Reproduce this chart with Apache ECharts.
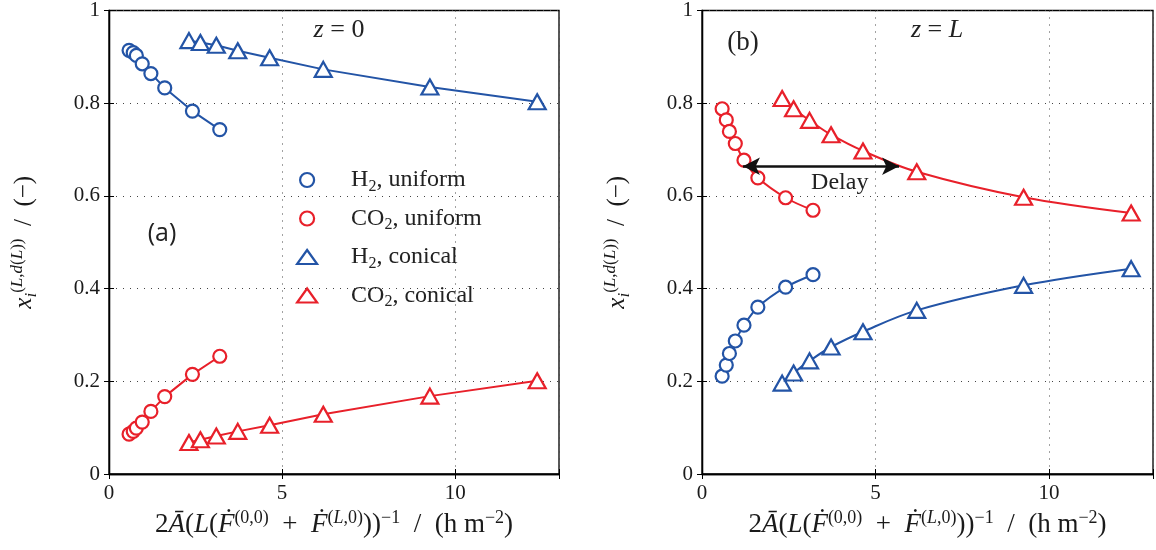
<!DOCTYPE html>
<html>
<head>
<meta charset="utf-8">
<script src="https://cdn.jsdelivr.net/npm/echarts@6/dist/echarts.min.js"></script>
<style>
html,body{margin:0;padding:0;background:#fff;}
#chart{width:1156px;height:550px;}
</style>
</head>
<body>
<div id="chart"></div>
<script>
// ---- data ----
const xUniform = [0.58, 0.70, 0.79, 0.96, 1.21, 1.61, 2.41, 3.20];
const xConical = [2.31, 2.64, 3.10, 3.72, 4.64, 6.19, 9.27, 12.37];

// panel (a): z = 0
const h2UniformA  = [0.914, 0.909, 0.903, 0.885, 0.864, 0.833, 0.783, 0.743];
const co2UniformA = [0.086, 0.092, 0.099, 0.112, 0.135, 0.167, 0.215, 0.254];
const h2ConicalA  = [0.935, 0.931, 0.925, 0.913, 0.898, 0.873, 0.835, 0.803];
const co2ConicalA = [0.068, 0.074, 0.082, 0.092, 0.105, 0.129, 0.168, 0.201];

// panel (b): z = L
const h2UniformB  = [0.211, 0.235, 0.260, 0.287, 0.321, 0.360, 0.403, 0.430];
const co2UniformB = [0.788, 0.764, 0.739, 0.713, 0.677, 0.639, 0.596, 0.569];
const h2ConicalB  = [0.196, 0.218, 0.244, 0.274, 0.307, 0.353, 0.407, 0.443];
const co2ConicalB = [0.810, 0.788, 0.763, 0.732, 0.697, 0.652, 0.597, 0.563];

// delay arrow (panel b)
const delayFrom = [1.18, 0.664];
const delayTo   = [5.68, 0.664];
const delayLabelPos = [3.97, 0.629];

const xTicks = [0, 5, 10];
const yTicks = [0, 0.2, 0.4, 0.6, 0.8, 1];
const seriesNames = ['H2u', 'CO2u', 'H2c', 'CO2c'];

// ---- styling ----
const BLUE = '#2354a6';
const RED = '#e8202a';
const SERIF = 'Liberation Serif';
const INK = '#1a1a1a';
const pair = (xs, ys) => xs.map((x, i) => [x, ys[i]]);

const legendText = {
  H2u: '{t|H}{s|2}{t|, uniform}',
  CO2u: '{t|CO}{s|2}{t|, uniform}',
  H2c: '{t|H}{s|2}{t|, conical}',
  CO2c: '{t|CO}{s|2}{t|, conical}'
};

function mathRich(fs, lh) {
  const sfs = Math.round(fs * 0.68);
  return {
    t: { fontFamily: SERIF, fontSize: fs, color: INK, lineHeight: lh, verticalAlign: 'middle' },
    i: { fontFamily: SERIF, fontSize: fs, fontStyle: 'italic', color: INK, lineHeight: lh, verticalAlign: 'middle' },
    sup: { fontFamily: SERIF, fontSize: sfs, color: INK, lineHeight: sfs + 2, verticalAlign: 'top' },
    supi: { fontFamily: SERIF, fontSize: sfs, fontStyle: 'italic', color: INK, lineHeight: sfs + 2, verticalAlign: 'top' },
    sub: { fontFamily: SERIF, fontSize: sfs, fontStyle: 'italic', color: INK, lineHeight: sfs + 2, verticalAlign: 'bottom' }
  };
}

function mkSeries(name, xs, ys, color, symbol, gi, smooth) {
  return {
    name: name, type: 'line', xAxisIndex: gi * 2, yAxisIndex: gi * 2,
    data: pair(xs, ys), smooth: smooth ? 0.35 : false,
    symbol: symbol, symbolSize: symbol === 'triangle' ? [17, 15] : 13,
    showAllSymbol: true,
    lineStyle: { color: color, width: 2 },
    itemStyle: { color: '#fff', borderColor: color, borderWidth: 2.2 },
    emphasis: { disabled: true }, animation: false, z: 3
  };
}

function axesFor() {
  const xMain = {
    type: 'value', min: 0, max: 13, interval: 5,
    axisLine: { show: true, lineStyle: { color: '#000', width: 1.3 } },
    axisTick: { show: true, inside: true, length: 5, lineStyle: { color: '#000' } },
    axisLabel: { show: true, color: INK, fontFamily: SERIF, fontSize: 21, margin: 9,
      formatter: v => (xTicks.indexOf(v) >= 0 ? String(v) : '') },
    splitLine: { show: true, lineStyle: { color: '#444', type: [1, 6], width: 1 } },
    name: '{t|2}{i|Ā}{t|(}{i|L}{t|(}{i|Ḟ}{sup|(0,0)}{t|  +  }{i|Ḟ}{sup|(}{supi|L}{sup|,0)}{t|))}{sup|−1}{t|  /  (h m}{sup|−2}{t|)}',
    nameLocation: 'middle', nameGap: 33,
    nameTextStyle: { rich: mathRich(27, 33) }
  };
  const xTop = {
    type: 'value', min: 0, max: 13, interval: 5, position: 'top',
    axisLine: { show: true, lineStyle: { color: '#000', width: 1.3 } },
    axisTick: { show: true, inside: true, length: 5, lineStyle: { color: '#000' } },
    axisLabel: { show: false }, splitLine: { show: false }
  };
  const yMain = {
    type: 'value', min: 0, max: 1, interval: 0.2,
    axisLine: { show: true, lineStyle: { color: '#000', width: 1.3 } },
    axisTick: { show: true, inside: true, length: 5, lineStyle: { color: '#000' } },
    axisLabel: { show: true, color: INK, fontFamily: SERIF, fontSize: 21, margin: 9,
      formatter: v => String(Math.round(v * 10) / 10) },
    splitLine: { show: true, lineStyle: { color: '#444', type: [1, 6], width: 1 } },
    name: '{i|x}{sub|i}{sup|(}{supi|L}{sup|,}{supi|d}{sup|(}{supi|L}{sup|))}{t|  /  (−)}',
    nameLocation: 'middle', nameGap: 69, nameRotate: 90,
    nameTextStyle: { rich: mathRich(25, 31) }
  };
  const yRight = {
    type: 'value', min: 0, max: 1, interval: 0.2, position: 'right',
    axisLine: { show: true, lineStyle: { color: '#000', width: 1.3 } },
    axisTick: { show: true, inside: true, length: 5, lineStyle: { color: '#000' } },
    axisLabel: { show: false }, splitLine: { show: false }
  };
  return { x: [xMain, xTop], y: [yMain, yRight] };
}

const a0 = axesFor(), a1 = axesFor();

const chart = echarts.init(document.getElementById('chart'), null, { renderer: 'canvas' });

const series = [
  mkSeries('H2u', xUniform, h2UniformA, BLUE, 'circle', 0, false),
  mkSeries('CO2u', xUniform, co2UniformA, RED, 'circle', 0, false),
  mkSeries('H2c', xConical, h2ConicalA, BLUE, 'triangle', 0, false),
  mkSeries('CO2c', xConical, co2ConicalA, RED, 'triangle', 0, false),
  mkSeries('H2u', xUniform, h2UniformB, BLUE, 'circle', 1, true),
  mkSeries('CO2u', xUniform, co2UniformB, RED, 'circle', 1, true),
  mkSeries('H2c', xConical, h2ConicalB, BLUE, 'triangle', 1, true),
  mkSeries('CO2c', xConical, co2ConicalB, RED, 'triangle', 1, true)
];
// delay arrow + label on panel (b)
series[5].markLine = {
  silent: true, animation: false,
  symbol: ['arrow', 'arrow'], symbolSize: [13, 17],
  lineStyle: { color: '#111', width: 2.5, type: 'solid' },
  label: { show: false },
  data: [[{ coord: delayFrom }, { coord: delayTo }]]
};
series[5].markPoint = {
  silent: true, animation: false, symbol: 'circle', symbolSize: 0,
  label: { show: true, position: 'inside', formatter: 'Delay', color: '#222',
    fontFamily: SERIF, fontSize: 24 },
  data: [{ coord: delayLabelPos }]
};

const option = {
  backgroundColor: '#fff',
  animation: false,
  textStyle: { fontFamily: SERIF },
  grid: [
    { left: 109, top: 10, width: 450, height: 464, show: true, borderColor: '#000', borderWidth: 1.3, backgroundColor: 'transparent' },
    { left: 702, top: 10, width: 451, height: 464, show: true, borderColor: '#000', borderWidth: 1.3, backgroundColor: 'transparent' }
  ],
  xAxis: [a0.x[0], a0.x[1], a1.x[0], a1.x[1]].map((ax, i) => Object.assign({}, ax, { gridIndex: i < 2 ? 0 : 1 })),
  yAxis: [a0.y[0], a0.y[1], a1.y[0], a1.y[1]].map((ax, i) => Object.assign({}, ax, { gridIndex: i < 2 ? 0 : 1 })),
  legend: {
    show: true, orient: 'vertical', left: 291, top: 163,
    itemWidth: 20, itemHeight: 14, itemGap: 12,
    selectedMode: false,
    data: [
      { name: 'H2u', icon: 'circle', itemStyle: { color: '#fff', borderColor: BLUE, borderWidth: 2.2 } },
      { name: 'CO2u', icon: 'circle', itemStyle: { color: '#fff', borderColor: RED, borderWidth: 2.2 } },
      { name: 'H2c', icon: 'triangle', itemStyle: { color: '#fff', borderColor: BLUE, borderWidth: 2.2 } },
      { name: 'CO2c', icon: 'triangle', itemStyle: { color: '#fff', borderColor: RED, borderWidth: 2.2 } }
    ],
    formatter: n => legendText[n],
    textStyle: { padding: [0, 0, 0, 29], rich: {
      t: { fontFamily: SERIF, fontSize: 24, color: '#222', lineHeight: 29, verticalAlign: 'middle' },
      s: { fontFamily: SERIF, fontSize: 16, color: '#222', lineHeight: 17, verticalAlign: 'bottom' }
    } }
  },
  graphic: [
    { type: 'text', style: { x: 162, y: 234, align: 'center', verticalAlign: 'middle',
        text: '(a)', fontFamily: 'Open Sans', fontSize: 25, fill: '#222' } },
    { type: 'text', style: { x: 339, y: 30, align: 'center', verticalAlign: 'middle',
        rich: {
          i: { fontFamily: SERIF, fontStyle: 'italic', fontSize: 26, fill: '#222' },
          t: { fontFamily: SERIF, fontSize: 26, fill: '#222' } },
        text: '{i|z}{t| = 0}' } },
    { type: 'text', style: { x: 743, y: 43, align: 'center', verticalAlign: 'middle',
        text: '(b)', fontFamily: SERIF, fontSize: 27, fill: '#222' } },
    { type: 'text', style: { x: 937, y: 30, align: 'center', verticalAlign: 'middle',
        rich: {
          i: { fontFamily: SERIF, fontStyle: 'italic', fontSize: 26, fill: '#222' },
          t: { fontFamily: SERIF, fontSize: 26, fill: '#222' } },
        text: '{i|z}{t| = }{i|L}' } }
  ],
  series: series
};
chart.setOption(option);
</script>
</body>
</html>
